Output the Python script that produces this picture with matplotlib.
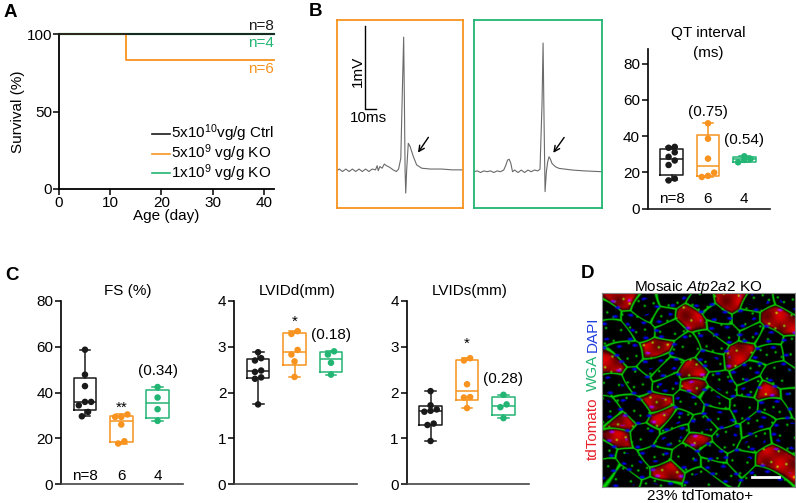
import numpy as np
import matplotlib
matplotlib.use('Agg')
import matplotlib.pyplot as plt
from matplotlib.lines import Line2D

W, H = 796, 503
plt.rcParams['font.family'] = ['Liberation Sans', 'DejaVu Sans']
plt.rcParams['mathtext.fontset'] = 'custom'
plt.rcParams['mathtext.rm'] = 'Liberation Sans'
plt.rcParams['mathtext.it'] = 'Liberation Sans:italic'
FS = 11
plt.rcParams['font.size'] = FS

BLACK = '#1a1a1a'
ORANGE = '#F7931E'
GREEN = '#22B573'

# ---------------- data ----------------
# Panel A: survival curves
surv_days = [0, 13, 42]
surv_ctrl = [100, 100, 100]
surv_ko5 = [100, 83.3, 83.3]
surv_ko1 = [100, 100, 100]
surv_labels = ['5x10$^{10}$vg/g Ctrl', '5x10$^{9}$ vg/g KO', '1x10$^{9}$ vg/g KO']
surv_n = ['n=8', 'n=4', 'n=6']

# Panel B: ECG traces (ms, mV)
ecg_ko5_t = [0, 2, 5, 8, 11, 14, 17, 20, 23, 26, 29, 32, 35, 36.5, 37.5, 39, 41, 43, 45, 48,
             51, 54, 56, 58, 59.3, 60.6, 61.3, 61.9, 62.5, 63.3, 64.8, 66.5, 69.4, 72.4, 77,
             85, 95, 105, 114.5]
ecg_ko5_v = [0.0, 0.02, -0.01, 0.02, -0.01, 0.02, -0.01, 0.02, -0.01, 0.02, -0.01, 0.02, 0.01,
             0.06, 0.0, 0.05, 0.03, 0.08, 0.06, 0.04, 0.01, -0.01, 0.02, 0.15, 0.9, 1.61, 0.8,
             0.0, -0.27, 0.0, 0.33, 0.29, 0.17, 0.07, 0.03, 0.02, 0.02, 0.01, 0.01]
ecg_ko1_t = [0, 3, 6, 9, 12, 15, 18, 21, 24, 27, 29, 30.5, 32, 33.5, 35, 37, 40, 43, 46, 49, 52,
             55, 58, 60, 61.8, 62.8, 63.7, 64.6, 65.8, 67, 68.2, 69.5, 70.9, 74, 77.3, 89.4,
             100, 116]
ecg_ko1_v = [0.0, 0.01, -0.01, 0.01, 0.0, 0.01, -0.01, 0.01, 0.0, 0.02, 0.08, 0.14, 0.15, 0.1,
             0.0, 0.02, -0.01, 0.02, -0.01, 0.02, 0.0, 0.02, 0.01, 0.03, 0.8, 1.55, 0.6, -0.24,
             0.0, 0.12, 0.18, 0.15, 0.10, 0.06, 0.04, 0.02, 0.01, 0.0]

# QT interval (ms)
qt_ctrl = [15.5, 16.5, 24.0, 26.5, 28.5, 31.0, 33.5, 34.0]
qt_ko5 = [17.4, 18.0, 19.8, 27.5, 38.5, 47.0]
qt_ko1 = [25.5, 26.8, 27.4, 28.8]
qt_p = ['', '(0.75)', '(0.54)']

# Panel C echo
fs_ctrl = [58.7, 47.8, 42.8, 35.9, 35.9, 34.4, 31.5, 29.6]
fs_ko5 = [30.4, 29.3, 29.3, 26.0, 17.7, 18.7]
fs_ko1 = [42.4, 37.8, 32.7, 27.6]
fs_sig = ['', '**', '(0.34)']

lvidd_ctrl = [2.88, 2.75, 2.70, 2.48, 2.45, 2.33, 2.30, 1.74]
lvidd_ko5 = [3.28, 3.34, 2.93, 2.83, 2.68, 2.34]
lvidd_ko1 = [2.90, 2.83, 2.65, 2.39]
lvidd_sig = ['', '*', '(0.18)']

lvids_ctrl = [2.03, 1.72, 1.63, 1.60, 1.58, 1.32, 1.29, 0.94]
lvids_ko5 = [2.75, 2.70, 2.18, 1.90, 1.89, 1.66]
lvids_ko1 = [1.95, 1.74, 1.68, 1.44]
lvids_sig = ['', '*', '(0.28)']

n_labels = ['n=8', '6', '4']
group_colors = [BLACK, ORANGE, GREEN]

# ---------------- helpers ----------------
fig = plt.figure(figsize=(W / 100, H / 100), dpi=100)


def axpx(l, t, r, b):
    return fig.add_axes([l / W, 1 - b / H, (r - l) / W, (b - t) / H])


def ftext(x, y, s, **kw):
    return fig.text(x / W, 1 - y / H, s, **kw)


def swarm(vals, thr, step=0.17):
    vals = np.asarray(vals, float)
    order = np.argsort(vals)
    offs = np.zeros(len(vals))
    groups = []
    cur = [order[0]]
    for idx in order[1:]:
        if vals[idx] - vals[cur[0]] < thr:
            cur.append(idx)
        else:
            groups.append(cur)
            cur = [idx]
    groups.append(cur)
    for g in groups:
        k = len(g)
        for j, idx in enumerate(g):
            offs[idx] = (j - (k - 1) / 2) * step
    return offs


def style_box_axes(ax, ylim, yticks):
    ax.set_xlim(0.34, 3.70)
    ax.set_ylim(*ylim)
    ax.set_yticks(yticks)
    ax.set_xticks([])
    for s in ['top', 'right']:
        ax.spines[s].set_visible(False)
    ax.spines['left'].set_linewidth(1.2)
    ax.spines['bottom'].set_linewidth(1.2)
    ax.spines['bottom'].set_color('#444444')
    ax.tick_params(axis='y', direction='out', length=4, width=1.1, pad=1.5, labelsize=FS)
    ax.patch.set_alpha(0)


def box_panel(ax, groups, thr):
    for i, (vals, c) in enumerate(zip(groups, group_colors)):
        pos = i + 1
        q1, med, q3 = np.percentile(vals, [25, 50, 75], method='weibull')
        st = dict(med=med, q1=q1, q3=q3, whislo=min(vals), whishi=max(vals), fliers=[])
        lp = dict(color=c, lw=1.1)
        ax.bxp([st], positions=[pos], widths=0.62, capwidths=0.3, showfliers=False,
               boxprops=lp, whiskerprops=lp, capprops=lp, medianprops=lp)
        offs = swarm(vals, thr)
        ax.scatter(pos + offs, vals, s=22, color=c, zorder=3, edgecolors='none', clip_on=False)


# ---------------- Panel A ----------------
axA = axpx(59, 34, 274, 189)
axA.step(surv_days, surv_ko1, where='post', color=GREEN, lw=1.6, clip_on=False, zorder=2)
axA.step(surv_days, surv_ko5, where='post', color=ORANGE, lw=1.3, clip_on=False, zorder=2)
axA.step(surv_days, surv_ctrl, where='post', color=BLACK, lw=1.3, clip_on=False, zorder=3)
axA.set_xlim(0, 42)
axA.set_ylim(0, 100)
axA.set_xticks([0, 10, 20, 30, 40])
axA.set_yticks([0, 50, 100])
for s in ['top', 'right']:
    axA.spines[s].set_visible(False)
for s in ['left', 'bottom']:
    axA.spines[s].set_linewidth(1.3)
axA.tick_params(direction='out', length=4, width=1.1, pad=1, labelsize=FS)
axA.set_xlabel('Age (day)', fontsize=FS, labelpad=-1)
axA.set_ylabel('Survival (%)', fontsize=FS, labelpad=1)
for lab, yv, c in zip(surv_n, [105, 94.2, 77.4], [BLACK, GREEN, ORANGE]):
    axA.text(42, yv, lab, ha='right', va='center', color=c, fontsize=FS)
# legend drawn as line + text rows
for lab, c, ypx in zip(surv_labels, [BLACK, ORANGE, GREEN], [133.5, 153.5, 173.0]):
    fig.add_artist(Line2D([151.5 / W, 169.5 / W], [1 - ypx / H, 1 - ypx / H], color=c, lw=1.2))
    ftext(171.0, ypx, lab, ha='left', va='center', fontsize=FS)
ftext(10, 12.5, 'A', fontsize=13.5, fontweight='bold', ha='center', va='center')

# ---------------- Panel B ECG ----------------
PXMS = 1.1
PXMV = 83.0


def ecg_axes(l, t, r, b, base_px, color, tt, vv, arrow_from, arrow_to):
    ax = axpx(l, t, r, b)
    ax.plot(tt, vv, color='#6a6a6a', lw=0.8)
    ax.set_xlim(0, (r - l) / PXMS)
    ax.set_ylim(-(b - base_px) / PXMV, (base_px - t) / PXMV)
    ax.set_xticks([])
    ax.set_yticks([])
    for s in ax.spines.values():
        s.set_color(color)
        s.set_linewidth(1.3)
    ax.annotate('', xy=arrow_to, xytext=arrow_from,
                arrowprops=dict(arrowstyle='->', color='k', lw=1.0, mutation_scale=10))
    return ax


axE1 = ecg_axes(337, 20, 463, 208, 170.7, ORANGE, ecg_ko5_t, ecg_ko5_v, (84.5, 0.43), (72.2, 0.19))
axE2 = ecg_axes(474, 20, 602, 208, 171.7, GREEN, ecg_ko1_t, ecg_ko1_v, (83.4, 0.44), (70.6, 0.20))
# scale bar
sb_x, sb_y = 25.5, 0.745
axE1.plot([sb_x, sb_x, sb_x + 10], [sb_y + 1, sb_y, sb_y], color='k', lw=1.0)
ftext(357.5, 71.5, '1mV', rotation=90, ha='center', va='center', fontsize=FS)
ftext(368, 117.5, '10ms', ha='center', va='center', fontsize=FS)
ftext(315, 12, 'B', fontsize=13.5, fontweight='bold', ha='center', va='center')

# QT box plot
axQ = axpx(647.7, 49, 769.7, 208.5)
box_panel(axQ, [qt_ctrl, qt_ko5, qt_ko1], thr=2.8)
style_box_axes(axQ, (0, 88), [0, 20, 40, 60, 80])
axQ.spines['bottom'].set_color(BLACK)
for i, lab in enumerate(n_labels):
    axQ.text(i + 1, 5.2, lab, ha='center', va='center', fontsize=FS)
axQ.text(2, 53.4, qt_p[1], ha='center', va='center', fontsize=FS)
axQ.text(3, 37.8, qt_p[2], ha='center', va='center', fontsize=FS)
ftext(708, 32.5, 'QT interval', ha='center', va='center', fontsize=FS)
ftext(708, 52.5, '(ms)', ha='center', va='center', fontsize=FS)

# ---------------- Panel C ----------------
ftext(12, 275, 'C', fontsize=13.5, fontweight='bold', ha='center', va='center')

axF = axpx(61, 301, 183, 484)
box_panel(axF, [fs_ctrl, fs_ko5, fs_ko1], thr=2.2)
style_box_axes(axF, (0, 80), [0, 20, 40, 60, 80])
for i, lab in enumerate(n_labels):
    axF.text(i + 1, 3.4, lab, ha='center', va='center', fontsize=FS)
axF.text(2, 33.5, fs_sig[1], ha='center', va='center', fontsize=FS)
axF.text(3, 49.5, fs_sig[2], ha='center', va='center', fontsize=FS)
ftext(128, 290.5, 'FS (%)', ha='center', va='center', fontsize=FS)

axD1 = axpx(234, 301, 356.5, 484)
box_panel(axD1, [lvidd_ctrl, lvidd_ko5, lvidd_ko1], thr=0.11)
style_box_axes(axD1, (0, 4), [0, 1, 2, 3, 4])
axD1.text(2, 3.55, lvidd_sig[1], ha='center', va='center', fontsize=FS)
axD1.text(3, 3.26, lvidd_sig[2], ha='center', va='center', fontsize=FS)
ftext(296.7, 290.5, 'LVIDd(mm)', ha='center', va='center', fontsize=FS)

axD2 = axpx(406.5, 301, 529, 484)
box_panel(axD2, [lvids_ctrl, lvids_ko5, lvids_ko1], thr=0.11)
style_box_axes(axD2, (0, 4), [0, 1, 2, 3, 4])
axD2.text(2, 3.06, lvids_sig[1], ha='center', va='center', fontsize=FS)
axD2.text(3, 2.30, lvids_sig[2], ha='center', va='center', fontsize=FS)
ftext(470, 290.5, 'LVIDs(mm)', ha='center', va='center', fontsize=FS)

# ---------------- Panel D (illustrative micrograph, deterministic texture) ----------------
ftext(587, 273.5, 'D', fontsize=13.5, fontweight='bold', ha='center', va='center')
axI = axpx(601.7, 293.3, 795, 486.7)
n = 240
u, v = np.meshgrid(np.linspace(0, 1, n), np.linspace(0, 1, n))
k = np.arange(75)
sx = (0.5 + k * 0.7548776662) % 1.0
sy = (0.5 + k * 0.5698402910) % 1.0
uu = u + 0.025 * np.sin(v * 17 + 0.4)
vv = v + 0.025 * np.sin(u * 15 + 1.1)
d = np.sqrt(((uu[..., None] - sx) * 0.8) ** 2 + (vv[..., None] - sy) ** 2)
ds = np.sort(d, axis=-1)
cid = np.argmin(d, axis=-1)
edge = ds[..., 1] - ds[..., 0]
green = np.clip(1.3 - edge / 0.008, 0, 1)
is_red = ((cid * 7) % 9 < 2).astype(float)
red = is_red * np.clip(edge / 0.03, 0, 1) * (0.7 + 0.25 * np.sin(u * 45 + 1) * np.sin(v * 41))
m = np.arange(260)
nx = (0.13 + m * 0.7548776662) % 1.0
ny = (0.71 + m * 0.5698402910) % 1.0
dn = np.min(np.sqrt(((u[..., None] - nx) * 0.8) ** 2 + ((v[..., None] - ny) * 1.4) ** 2), axis=-1)
blue = np.clip(1.4 - dn / 0.011, 0, 1) * (edge < 0.05)
gx = (0.37 + m * 0.5698402910) % 1.0
gy = (0.29 + m * 0.7548776662) % 1.0
gdots = np.clip(1.3 - np.min(np.sqrt((u[..., None] - gx) ** 2 + (v[..., None] - gy) ** 2), axis=-1) / 0.007, 0, 1)
green = np.maximum(green, gdots)
img = np.zeros((n, n, 3))
img[..., 0] = np.clip(red * 0.9, 0, 1)
img[..., 1] = np.clip(green * 0.85 * (1 - blue), 0, 1)
img[..., 2] = np.clip(blue * 0.95, 0, 1)
axI.imshow(img, aspect='auto', interpolation='bilinear')
axI.set_xticks([])
axI.set_yticks([])
for s in axI.spines.values():
    s.set_color('#888888')
    s.set_linewidth(0.8)
axI.plot([0.78, 0.915], [0.05, 0.05], transform=axI.transAxes, color='white', lw=2)

ftext(698, 287, 'Mosaic $\\mathit{Atp2a2}$ KO', ha='center', va='center', fontsize=FS)
ftext(700, 496, '23% tdTomato+', ha='center', va='center', fontsize=FS)
ftext(593, 429, 'tdTomato', rotation=90, ha='center', va='center', color='#E8202A', fontsize=FS)
ftext(593, 373, 'WGA', rotation=90, ha='center', va='center', color='#22B573', fontsize=FS)
ftext(593, 334, 'DAPI', rotation=90, ha='center', va='center', color='#1F3FE0', fontsize=FS)

fig.savefig('out.png', dpi=100)
